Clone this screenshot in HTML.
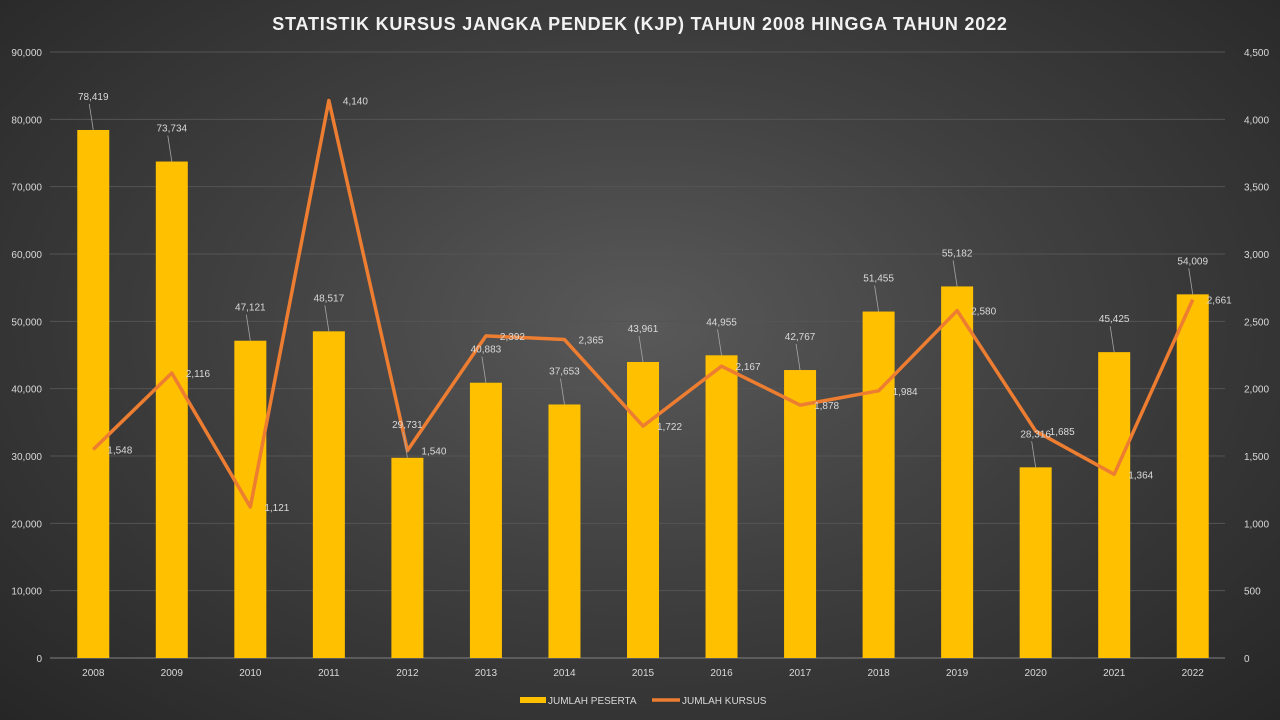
<!DOCTYPE html>
<html><head><meta charset="utf-8"><style>
html,body{margin:0;padding:0;overflow:hidden;}
body{width:1280px;height:720px;overflow:hidden;background:radial-gradient(ellipse at 50% 45%,#595959 0%,#404040 45%,#262626 100%);font-family:"Liberation Sans",sans-serif;}
svg{display:block;}
svg text{font-family:"Liberation Sans",sans-serif;}
</style></head><body>
<svg width="1280" height="720" id="c">
<text x="640" y="30" text-anchor="middle" fill="#f2f2f2" font-size="18" font-weight="bold" letter-spacing="0.8">STATISTIK  KURSUS  JANGKA  PENDEK  (KJP)  TAHUN  2008  HINGGA  TAHUN  2022</text>
<g id="grid"></g><g id="bars"></g><g id="line"></g><g id="labels"></g>
<g>
<rect x="520" y="697" width="26" height="6" fill="#ffc000"/>
<text x="548" y="704" fill="#d9d9d9" font-size="10">JUMLAH PESERTA</text>
<line x1="652" y1="700" x2="680" y2="700" stroke="#ed7d31" stroke-width="3.5"/>
<text x="682" y="704" fill="#d9d9d9" font-size="10">JUMLAH KURSUS</text>
</g>
</svg>
<script>
const years=["2008","2009","2010","2011","2012","2013","2014","2015","2016","2017","2018","2019","2020","2021","2022"];
const peserta=[78419,73734,47121,48517,29731,40883,37653,43961,44955,42767,51455,55182,28316,45425,54009];
const kursus=[1548,2116,1121,4140,1540,2392,2365,1722,2167,1878,1984,2580,1685,1364,2661];
const leftTicks=[0,10000,20000,30000,40000,50000,60000,70000,80000,90000];
const rightTicks=[0,500,1000,1500,2000,2500,3000,3500,4000,4500];
const NS="http://www.w3.org/2000/svg";
const x0=54,x1=1232,yB=658,yT=52;
const step=(x1-x0)/years.length;
const xc=i=>x0+step*(i+0.5);
const yL=v=>yB-(v/90000)*(yB-yT);
const yR=v=>yB-(v/4500)*(yB-yT);
const fmt=v=>v.toLocaleString("en-US");
function mk(t,a,p){const e=document.createElementNS(NS,t);for(const k in a)e.setAttribute(k,a[k]);p.appendChild(e);return e;}
const g=document.getElementById("grid"),b=document.getElementById("bars"),l=document.getElementById("line"),lb=document.getElementById("labels");
leftTicks.forEach((v,i)=>{
 const ln=mk("line",{x1:x0-4,x2:x1-7,y1:yL(v),y2:yL(v),stroke:i?"#545454":"#808080","stroke-width":1},g);
 
 
 const t=mk("text",{x:42,y:yL(v)+4,"text-anchor":"end",fill:"#d9d9d9","font-size":10},g);t.textContent=fmt(v);
 
 
});
rightTicks.forEach(v=>{
 const t=mk("text",{x:1244,y:yR(v)+4,fill:"#d9d9d9","font-size":10},g);t.textContent=fmt(v);
 
 
});
years.forEach((y,i)=>{
 const t=mk("text",{x:xc(i),y:676,"text-anchor":"middle",fill:"#d9d9d9","font-size":10},g);t.textContent=y;
 
 
 const r=mk("rect",{x:xc(i)-16,y:yL(peserta[i]),width:32,height:yB-yL(peserta[i]),fill:"#ffc000"},b);
 
 
 const bt=mk("text",{x:xc(i),y:yL(peserta[i])-30,"text-anchor":"middle",fill:"#d9d9d9","font-size":10},lb);bt.textContent=fmt(peserta[i]);
 
 
 const ld=mk("line",{x1:xc(i)-4,y1:yL(peserta[i])-26,x2:xc(i),y2:yL(peserta[i]),stroke:"#a6a6a6","stroke-width":0.8},lb);
 
 
 const lt=mk("text",{x:xc(i)+14,y:yR(kursus[i])+4,fill:"#d9d9d9","font-size":10},lb);lt.textContent=fmt(kursus[i]);
 
 
});
const pts=kursus.map((v,i)=>xc(i)+","+yR(v)).join(" ");
const pl=mk("polyline",{points:pts,fill:"none",stroke:"#ed7d31","stroke-width":3.5,"stroke-linejoin":"round"},l);


</script>
</body></html>
